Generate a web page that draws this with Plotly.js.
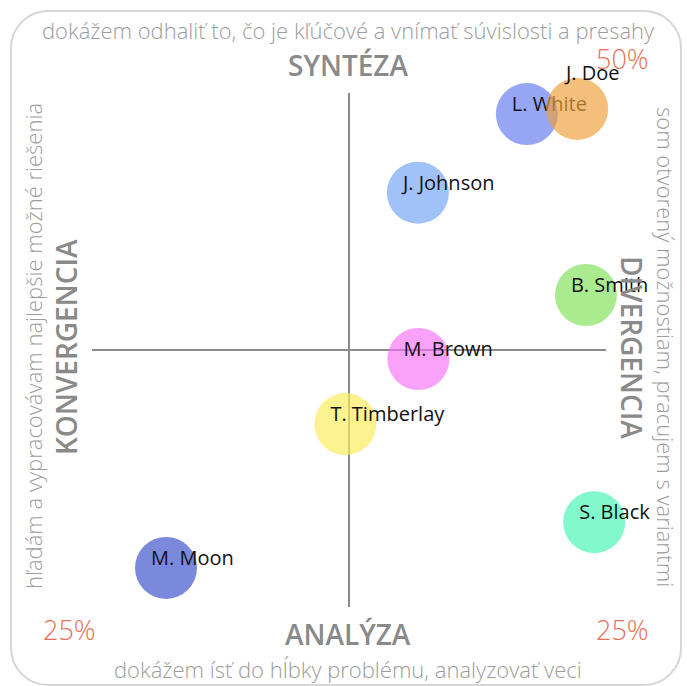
<!DOCTYPE html>
<html><head><meta charset="utf-8">
<script src="https://cdn.plot.ly/plotly-3.0.1.min.js"></script>
<style>
html,body{margin:0;padding:0;background:#fff;overflow:hidden;width:687px;height:686px;}
#frame{position:absolute;left:10px;top:10px;width:672px;height:676px;border:2px solid #d6d6d6;border-radius:38px;box-sizing:border-box;}
#chart{position:absolute;left:0;top:0;width:687px;height:686px;}
</style></head><body>
<div id="frame"></div><div id="chart"></div>
<script>
// ---- data ----
const names = ['M. Moon', 'T. Timberlay', 'M. Brown', 'J. Johnson', 'B. Smith', 'S. Black', 'L. White', 'J. Doe'];
const xValues = [-35.6, -0.7, 13.5, 13.4, 46.1, 47.7, 34.6, 44.4];
const yValues = [-42.4, -14.4, -1.75, 30.6, 10.7, -33.5, 45.9, 46.9];
const topLabel = 'SYNTÉZA';
const bottomLabel = 'ANALÝZA';
const leftLabel = 'KONVERGENCIA';
const rightLabel = 'DIVERGENCIA';
const topNote = 'dokážem odhaliť to, čo je kľúčové a vnímať súvislosti a presahy';
const bottomNote = 'dokážem ísť do hĺbky problému, analyzovať veci';
const leftNote = 'hľadám a vypracovávam najlepšie možné riešenia';
const rightNote = 'som otvorený možnostiam, pracujem s variantmi';
const cornerTopRight = '50%';
const cornerBottomLeft = '25%';
const cornerBottomRight = '25%';

// ---- style ----
const colors = {
  'M. Moon': 'rgba(72,92,208,0.72)',
  'T. Timberlay': 'rgba(250,236,90,0.68)',
  'M. Brown': 'rgba(248,110,248,0.65)',
  'J. Johnson': 'rgba(110,160,246,0.65)',
  'B. Smith': 'rgba(130,226,90,0.68)',
  'S. Black': 'rgba(70,246,180,0.68)',
  'L. White': 'rgba(100,124,240,0.68)',
  'J. Doe': 'rgba(238,160,60,0.68)'
};
const FONT = '"Open Sans", sans-serif';
const W = 687, H = 686;
const M = {l: 92, r: 81, t: 93, b: 79};
const plotW = W - M.l - M.r, plotH = H - M.t - M.b;
const xRange = [-50, 50], yRange = [-50, 50];
const pxX = (xRange[1] - xRange[0]) / plotW;
const pxY = (yRange[1] - yRange[0]) / plotH;
const labelDX = -15, labelDY = 8;
const labelFont = {family: FONT, size: 20, color: '#111111', weight: 400};
const liftedLabels = {'J. Doe': 36};

const traces = [];
const pointAnnotations = [];
names.forEach((n, i) => {
  traces.push({
    type: 'scatter', mode: 'markers', x: [xValues[i]], y: [yValues[i]],
    marker: {size: 62, color: colors[n], line: {width: 0}},
    hoverinfo: 'none', showlegend: false, cliponaxis: false
  });
  if (liftedLabels[n]) {
    pointAnnotations.push({text: n, x: xValues[i], y: yValues[i], xref: 'x', yref: 'y',
      xanchor: 'left', yanchor: 'middle', xshift: labelDX, yshift: liftedLabels[n],
      showarrow: false, font: labelFont});
  } else {
    traces.push({
      type: 'scatter', mode: 'text', x: [xValues[i] + labelDX * pxX],
      y: [yValues[i] + labelDY * pxY],
      text: [n], textposition: 'middle right', textfont: labelFont,
      hoverinfo: 'none', showlegend: false, cliponaxis: false
    });
  }
});

const grayBig = {family: FONT, size: 28, color: '#8a8a8a', weight: 600};
const graySmall = {family: FONT, size: 22, color: '#9c9c9c', weight: 300};
const red = {family: FONT, size: 27, color: '#e8705a', weight: 300};
function px2paperX(px) { return (px - M.l) / plotW; }
function px2paperY(py) { return (H - M.b - py) / plotH; }
function ann(text, px, py, font, angle) {
  return {text: text, x: px2paperX(px), y: px2paperY(py), xref: 'paper', yref: 'paper',
    xanchor: 'center', yanchor: 'middle', showarrow: false, font: font, textangle: angle || 0};
}
const annotations = [
  ann(topNote, 348, 30, graySmall),
  ann(topLabel, 348, 65, grayBig),
  ann(cornerTopRight, 622, 58, red),
  ann(cornerBottomLeft, 69, 629, red),
  ann(cornerBottomRight, 622, 629, red),
  ann(bottomLabel, 348, 634, grayBig),
  ann(bottomNote, 348, 669, graySmall),
  ann(leftNote, 33, 346, graySmall, -90),
  ann(leftLabel, 66, 347, grayBig, -90),
  ann(rightLabel, 632, 347, grayBig, 90),
  ann(rightNote, 666, 347, graySmall, 90)
].concat(pointAnnotations);

const axisBase = {showgrid: false, showticklabels: false, ticks: '', showline: false,
  zeroline: true, zerolinecolor: '#8c8c8c', zerolinewidth: 2, fixedrange: true};
const layout = {
  width: W, height: H, margin: M,
  paper_bgcolor: 'rgba(0,0,0,0)', plot_bgcolor: 'rgba(0,0,0,0)',
  xaxis: Object.assign({range: xRange}, axisBase),
  yaxis: Object.assign({range: yRange}, axisBase),
  annotations: annotations,
  font: {family: FONT}
};
Plotly.newPlot('chart', traces, layout, {displayModeBar: false, staticPlot: true});
</script>
</body></html>
